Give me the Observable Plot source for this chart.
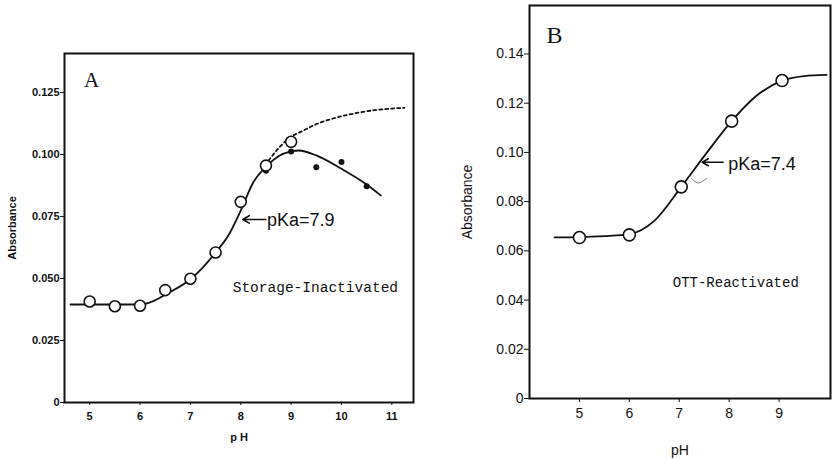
<!DOCTYPE html>
<html><head><meta charset="utf-8">
<script src="https://cdn.jsdelivr.net/npm/d3@7"></script>
<script src="https://cdn.jsdelivr.net/npm/@observablehq/plot@0.6"></script>
<style>
body{margin:0;background:#fff;}
#wrap{position:relative;width:832px;height:460px;}
#wrap svg{position:absolute;top:0;}
</style></head>
<body><div id="wrap"></div>
<script>
// ---------- Panel A data ----------
const xTicksA = [5, 6, 7, 8, 9, 10, 11];
const yTicksA = [0, 0.025, 0.05, 0.075, 0.1, 0.125];
const yTickLabelsA = ["0", "0.025", "0.050", "0.075", "0.100", "0.125"];
const openPhA = [5, 5.5, 6, 6.5, 7, 7.5, 8, 8.5, 9];
const openAbsA = [0.0407, 0.0388, 0.039, 0.0453, 0.0499, 0.0605, 0.0809, 0.0955, 0.1051];
const filledPhA = [8.5, 9, 9.5, 10, 10.5];
const filledAbsA = [0.0934, 0.1012, 0.0948, 0.097, 0.0872];
const solidPhA = [4.62, 5, 5.5, 6, 6.25, 6.5, 7, 7.25, 7.5, 7.75, 8, 8.25, 8.5, 8.75, 9, 9.15, 9.5, 10, 10.5, 10.78];
const solidAbsA = [0.0395, 0.0395, 0.0395, 0.0395, 0.0408, 0.0435, 0.0497, 0.0545, 0.0605, 0.0672, 0.0774, 0.0888, 0.095, 0.0993, 0.1012, 0.1016, 0.0996, 0.0942, 0.0879, 0.0835];
const dashPhA = [8.55, 8.75, 9, 9.2, 9.5, 9.85, 10.2, 10.6, 11, 11.25];
const dashAbsA = [0.0975, 0.1025, 0.1072, 0.1092, 0.1122, 0.1146, 0.1163, 0.1177, 0.1185, 0.1188];
const labelA = "A";
const noteA = "pKa=7.9";
const seriesA = "Storage-Inactivated";

// ---------- Panel B data ----------
const xTicksB = [5, 6, 7, 8, 9];
const yTicksB = [0, 0.02, 0.04, 0.06, 0.08, 0.1, 0.12, 0.14];
const yTickLabelsB = ["0", "0.02", "0.04", "0.06", "0.08", "0.10", "0.12", "0.14"];
const openPhB = [5, 6, 7.04, 8.05, 9.06];
const openAbsB = [0.0654, 0.0665, 0.086, 0.1127, 0.1292];
const curvePhB = [4.5, 5, 5.5, 6, 6.5, 7.04, 7.5, 8.05, 8.5, 9.06, 9.5, 9.95];
const curveAbsB = [0.0655, 0.0656, 0.066, 0.0668, 0.0722, 0.086, 0.0985, 0.1127, 0.1222, 0.1292, 0.131, 0.1315];
const squigglePhB = [7.24, 7.38, 7.55];
const squiggleAbsB = [0.0894, 0.0876, 0.0894];
const labelB = "B";
const noteB = "pKa=7.4";
const seriesB = "OTT-Reactivated";

const zip = (xs, ys) => xs.map((x, i) => ({x, y: ys[i]}));
const wrap = document.getElementById("wrap");

// ---------- Panel A ----------
const fmtA = d => yTickLabelsA[yTicksA.indexOf(d)];
const plotA = Plot.plot({
  width: 420, height: 460,
  marginLeft: 64, marginRight: 7, marginTop: 53, marginBottom: 58,
  x: {domain: [4.5, 11.43]},
  y: {domain: [0, 0.1407]},
  style: {fontFamily: "Liberation Sans, Arial, sans-serif", background: "transparent", color: "#111"},
  marks: [
    Plot.frame({stroke: "#111", strokeWidth: 2}),
    Plot.axisY(yTicksA, {tickSize: 4, tickPadding: 1, tickFormat: fmtA, fontSize: 11, fontWeight: "bold",
      label: "Absorbance", labelAnchor: "center", labelArrow: "none", labelOffset: 56}),
    Plot.axisX(xTicksA, {tickSize: 3, tickPadding: 7, fontSize: 11, fontWeight: "bold",
      label: "p H", labelAnchor: "center", labelArrow: "none", labelOffset: 38}),
    Plot.line(zip(dashPhA, dashAbsA), {x: "x", y: "y", curve: "monotone-x", stroke: "#111", strokeWidth: 1.8, strokeDasharray: "3,3"}),
    Plot.line(zip(solidPhA, solidAbsA), {x: "x", y: "y", curve: "monotone-x", stroke: "#111", strokeWidth: 1.8}),
    Plot.dot(zip(filledPhA, filledAbsA), {x: "x", y: "y", r: 3, fill: "#111", stroke: "none"}),
    Plot.dot(zip(openPhA, openAbsA), {x: "x", y: "y", r: 5.5, fill: "white", stroke: "#111", strokeWidth: 1.6}),
    Plot.arrow([{x1: 8.5, y1: 0.0738, x2: 8.04, y2: 0.0738}], {x1: "x1", y1: "y1", x2: "x2", y2: "y2", stroke: "#111", strokeWidth: 1.6, headLength: 7}),
    Plot.text([{x: 8.52, y: 0.0735, t: noteA}], {x: "x", y: "y", text: "t", textAnchor: "start", fontSize: 18, fill: "#111"}),
    Plot.text([{x: 7.84, y: 0.0464, t: seriesA}], {x: "x", y: "y", text: "t", textAnchor: "start", fontSize: 14.5, fontFamily: "Liberation Mono, DejaVu Sans Mono, monospace", fill: "#111"}),
    Plot.text([{x: 5.04, y: 0.1298, t: labelA}], {x: "x", y: "y", text: "t", fontSize: 21, fontFamily: "Liberation Serif, DejaVu Serif, serif", fill: "#111"})
  ]
});
plotA.style.left = "0px";
wrap.appendChild(plotA);

// ---------- Panel B ----------
const fmtB = d => yTickLabelsB[yTicksB.indexOf(d)];
const plotB = Plot.plot({
  width: 412, height: 460,
  marginLeft: 109, marginRight: 2, marginTop: 5, marginBottom: 62,
  x: {domain: [4, 10.03]},
  y: {domain: [0, 0.1597]},
  style: {fontFamily: "Liberation Sans, Arial, sans-serif", background: "transparent", color: "#111"},
  marks: [
    Plot.frame({stroke: "#111", strokeWidth: 2}),
    Plot.axisY(yTicksB, {tickSize: 5, tickPadding: 1, tickFormat: fmtB, fontSize: 14,
      label: "Absorbance", labelAnchor: "center", labelArrow: "none", labelOffset: 67}),
    Plot.axisX(xTicksB, {tickSize: 4, tickPadding: 6, fontSize: 14,
      label: "pH", labelAnchor: "center", labelArrow: "none", labelOffset: 56}),
    Plot.line(zip(curvePhB, curveAbsB), {x: "x", y: "y", curve: "monotone-x", stroke: "#111", strokeWidth: 1.8}),
    Plot.line(zip(squigglePhB, squiggleAbsB), {x: "x", y: "y", curve: "catmull-rom", stroke: "#555", strokeWidth: 0.8}),
    Plot.dot(zip(openPhB, openAbsB), {x: "x", y: "y", r: 6, fill: "white", stroke: "#111", strokeWidth: 1.6}),
    Plot.arrow([{x1: 7.88, y1: 0.096, x2: 7.46, y2: 0.096}], {x1: "x1", y1: "y1", x2: "x2", y2: "y2", stroke: "#111", strokeWidth: 1.6, headLength: 7}),
    Plot.text([{x: 7.98, y: 0.0953, t: noteB}], {x: "x", y: "y", text: "t", textAnchor: "start", fontSize: 18, fill: "#111"}),
    Plot.text([{x: 6.87, y: 0.0473, t: seriesB}], {x: "x", y: "y", text: "t", textAnchor: "start", fontSize: 14, fontFamily: "Liberation Mono, DejaVu Sans Mono, monospace", fill: "#111"}),
    Plot.text([{x: 4.5, y: 0.1475, t: labelB}], {x: "x", y: "y", text: "t", fontSize: 24, fontFamily: "Liberation Serif, DejaVu Serif, serif", fill: "#111"})
  ]
});
plotB.style.left = "420px";
wrap.appendChild(plotB);
</script>
</body></html>
